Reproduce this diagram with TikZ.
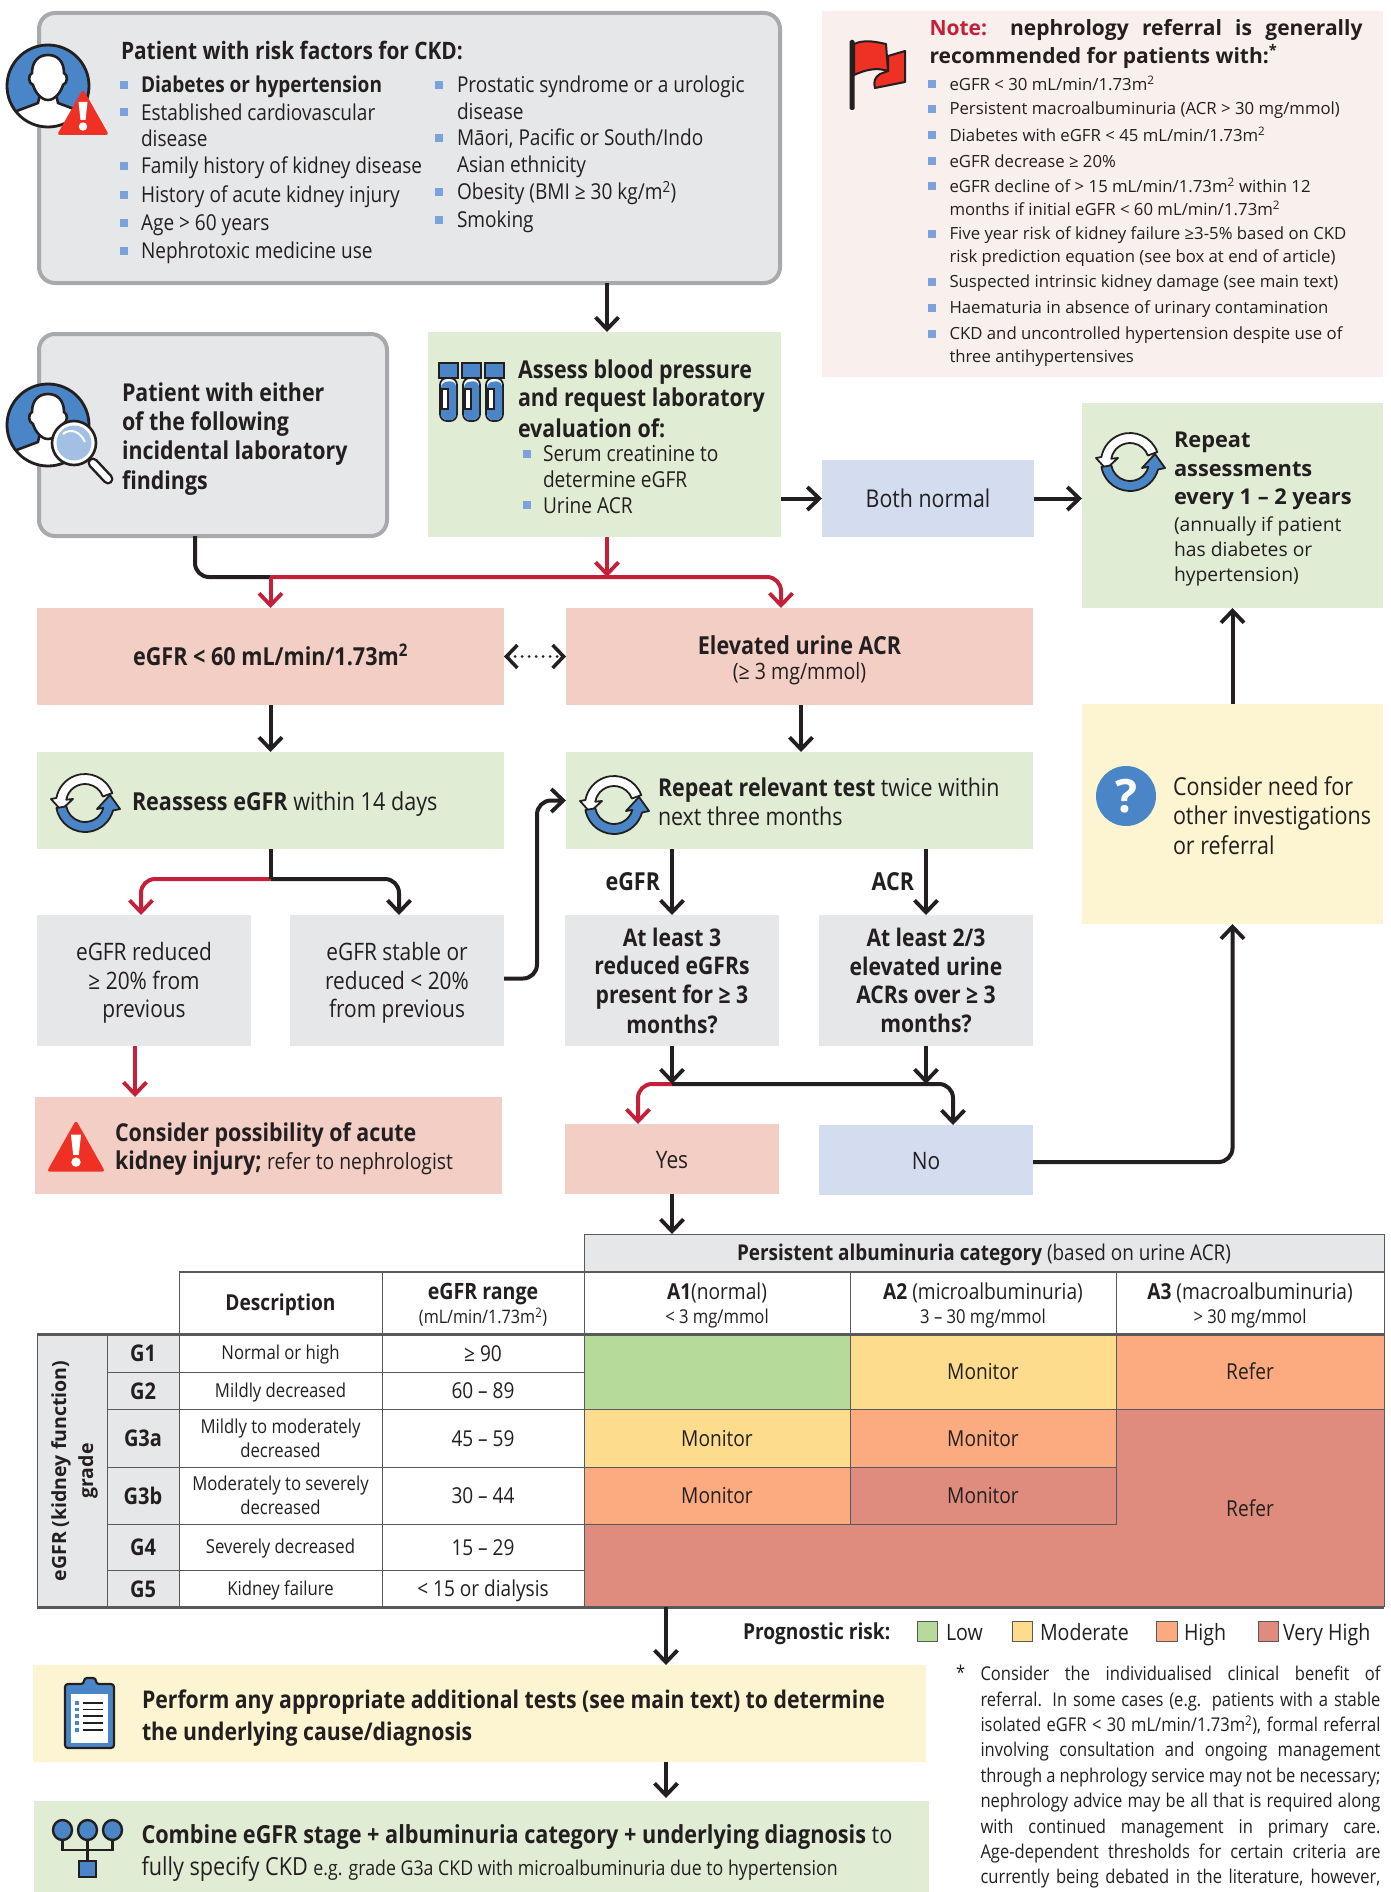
\documentclass[tikz,border=0pt]{standalone}
\usepackage{fontspec}
\usetikzlibrary{arrows.meta}
\setmainfont{Open Sans}[FakeStretch=0.87]
\newfontfamily\nf{Open Sans}
\definecolor{ink}{HTML}{231F20}
\definecolor{gfill}{HTML}{E6E7E8}
\definecolor{gline}{HTML}{A7A9AC}
\definecolor{grn}{HTML}{E1ECD5}
\definecolor{pnk}{HTML}{F2CEC4}
\definecolor{blu}{HTML}{D3DDEF}
\definecolor{yel}{HTML}{FDF5D2}
\definecolor{notebg}{HTML}{F9EFED}
\definecolor{redln}{HTML}{C4203A}
\definecolor{cblue}{HTML}{4A86C7}
\definecolor{bul}{HTML}{7BA3D9}
\definecolor{warnred}{HTML}{EE3124}
\definecolor{hgreen}{HTML}{B6DA9A}
\definecolor{hyel}{HTML}{FEDC8E}
\definecolor{hor}{HTML}{FBAB7F}
\definecolor{hred}{HTML}{DF8C7F}
\definecolor{tline}{HTML}{58595B}
\newcommand\sz[2]{\fontsize{#1}{#2}\selectfont}
\newcommand\lh{\rule[-.2em]{0pt}{1.15em}}
\newcounter{tc}
\newcommand\T[4][]{\stepcounter{tc}\node[txt,#1] (t\arabic{tc}) at (#2,#3) {\lh #4\lh};}
\newcommand\bx[7][]{\node[cell,#1,minimum width={(#5-#3)*1pt},minimum height={(#6-#4)*1pt}] (#2) at ({(#3+#5)/2},{(#4+#6)/2}) {\lh #7\lh};}
\newcommand\B[2]{\fill[bul] (#1-4,#2-4) rectangle (#1+4,#2+4);}
\newcommand\cycleicon[2]{\begin{scope}[shift={(#1,#2)}]
\filldraw[fill=white,draw=ink,line width=1.8pt,line join=round] (-20:29) arc[start angle=-20,end angle=-170,radius=29] -- (-34,-4) -- (-24,7) -- (-12,-4) -- (-170:19) arc[start angle=-170,end angle=-20,radius=19] -- cycle;
\filldraw[fill=cblue,draw=ink,line width=1.8pt,line join=round] (170:29) arc[start angle=170,end angle=15,radius=29] -- (35,6) -- (25,-8) -- (12,6) -- (15:19) arc[start angle=15,end angle=170,radius=19] -- cycle;
\end{scope}}
\newcommand\personicon[2]{\begin{scope}[shift={(#1,#2)}]
\fill[cblue] (0,0) circle[radius=41];
\begin{scope}\clip (0,0) circle[radius=41];
\filldraw[fill=white,draw=ink,line width=2.6pt,line join=round] (-42,29) -- (-10,17) -- (-8,8) -- (8,8) -- (10,17) -- (42,29) -- (42,50) -- (-42,50) -- cycle;
\end{scope}
\filldraw[fill=white,draw=ink,line width=2.6pt] (0,-31) .. controls (-10,-31) and (-16,-24) .. (-16,-13) .. controls (-20,-11) and (-20,-3) .. (-15,-1) .. controls (-13,6) and (-7,14) .. (0,14) .. controls (7,14) and (13,6) .. (15,-1) .. controls (20,-3) and (20,-11) .. (16,-13) .. controls (16,-24) and (10,-31) .. (0,-31) -- cycle;
\draw[ink,line width=2.8pt] (0,0) circle[radius=41];
\end{scope}}
\newcommand\warn[3]{\begin{scope}[shift={(#1,#2)},scale=#3]
\fill[warnred,rounded corners=3pt] (0,-24) -- (26,22) -- (-26,22) -- cycle;
\fill[white] (-4.5,-11) -- (4.5,-11) -- (2.5,7) -- (-2.5,7) -- cycle;
\fill[white] (0,13.5) circle[radius=4.2];
\end{scope}}
\newcommand\tube[1]{\begin{scope}[shift={(#1,363)}]
\filldraw[fill=white,draw=ink,line width=1.8pt,rounded corners=7pt] (1,15) -- (1,58) -- (18,58) -- (18,15) -- cycle;
\fill[cblue,rounded corners=6pt] (2,19) -- (2,57) -- (17,57) -- (17,18) -- cycle;
\fill[white] (3,26) rectangle (9,46);
\draw[ink,line width=1.2pt] (3,26) rectangle (9,46);
\filldraw[fill=cblue,draw=ink,line width=1.8pt] (0,0) rectangle (19,15);
\end{scope}}
\tikzset{
 txt/.style={inner sep=0pt,outer sep=0pt,text=ink,anchor=west,align=left},
 ctr/.style={anchor=center,align=center},
 cell/.style={inner sep=0pt,outer sep=0pt,text=ink,align=center,anchor=center},
 rbox/.style={fill=gfill,draw=gline,line width=4pt,rounded corners=16pt},
 tc/.style={draw=tline,line width=1pt,fill=white},
 gc/.style={draw=tline,line width=1pt,fill=gfill},
 hc/.style={draw=tline,line width=1pt},
 ar/.style={ink,line width=4pt,-{Straight Barb[length=12pt,width=23pt,line width=3.8pt]}},
 rar/.style={redln,line width=4pt,-{Straight Barb[length=12pt,width=23pt,line width=3.8pt]}},
 ln/.style={ink,line width=4pt},
}
\begin{document}
\begin{tikzpicture}[x=1pt,y=-1pt]
\useasboundingbox (0,0) rectangle (1390,1892);
% ---------- boxes
\bx[rbox]{risk}{39}{13}{780}{283}{}
\bx[rbox]{incid}{39}{334}{387}{536}{}
\bx[fill=grn]{assess}{428}{332}{781}{537}{}
\bx[fill=notebg]{note}{822}{11}{1383}{377}{}
\bx[fill=blu,font=\sz{24.5}{28}]{both}{822}{460}{1034}{537}{Both normal}
\bx[fill=grn]{rpt}{1082}{403}{1383}{608}{}
\bx[fill=pnk,font=\sz{24.8}{28}\bfseries]{egfr}{37}{608}{504}{705}{eGFR < 60 mL/min/1.73m\textsuperscript{2}}
\bx[fill=pnk]{elev}{566}{608}{1033}{705}{}
\bx[fill=grn]{reass}{37}{752}{504}{849}{}
\bx[fill=grn]{rep}{566}{752}{1033}{849}{}
\bx[fill=gfill,font=\sz{24}{28.5}]{redu}{37}{915}{251}{1046}{eGFR reduced\\≥ 20\% from\\previous}
\bx[fill=gfill,font=\sz{24}{28.5}]{stable}{290}{915}{504}{1046}{eGFR stable or\\reduced < 20\%\\from previous}
\bx[fill=gfill,font=\sz{24.3}{28.5}\bfseries]{atl3}{565}{915}{779}{1046}{At least 3\\reduced eGFRs\\present for ≥ 3\\months?}
\bx[fill=gfill,font=\sz{24.3}{28.5}\bfseries]{atl2}{819}{915}{1033}{1046}{At least 2/3\\elevated urine\\ACRs over ≥ 3\\months?}
\bx[fill=pnk]{aki}{35}{1097}{502}{1194}{}
\bx[fill=pnk,font=\sz{24}{28}]{yes}{565}{1124}{779}{1194}{Yes}
\bx[fill=blu,font=\sz{24}{28}]{no}{819}{1125}{1033}{1195}{No}
\bx[fill=yel]{cons}{1082}{704}{1383}{924}{}
\bx[fill=yel]{perform}{33}{1665}{926}{1762}{}
\bx[fill=grn]{comb}{34}{1801}{929}{1892}{}
% ---------- table
\bx[gc,font=\sz{21.75}{25}\bfseries]{hdr}{584}{1234}{1384}{1271}{Persistent albuminuria category \mdseries(based on urine ACR)}
\bx[tc,font=\sz{22}{26}\bfseries]{hdesc}{179}{1272}{382}{1334}{Description}
\bx[tc,font=\sz{22.5}{24}\bfseries]{hrange}{382}{1272}{584}{1334}{eGFR range\\\mdseries\sz{18.6}{24}(mL/min/1.73m\textsuperscript{2})}
\bx[tc,font=\sz{22}{24}]{ha1}{584}{1272}{850}{1334}{\textbf{A1}(normal)\\\sz{19.1}{24}< 3 mg/mmol}
\bx[tc,font=\sz{22}{24}]{ha2}{850}{1272}{1116}{1334}{\textbf{A2} (microalbuminuria)\\\sz{19.1}{24}3 – 30 mg/mmol}
\bx[tc,font=\sz{22}{24}]{ha3}{1116}{1272}{1384}{1334}{\textbf{A3} (macroalbuminuria)\\\sz{19.1}{24}> 30 mg/mmol}
\bx[gc]{gradecol}{37}{1334}{107}{1607}{}
\node[inner sep=0pt,text=ink,align=center,rotate=90,font=\nf\sz{19.5}{27}\bfseries] (gradetxt) at (74.5,1471) {eGFR (kidney function)\\grade};
\foreach \nm/\ya/\yb/\lab/\desc/\rng in {g1/1334/1372/G1/Normal or high/≥ 90,g2/1372/1409/G2/Mildly decreased/60 – 89,g3a/1409/1467/G3a/{Mildly to moderately\\decreased}/45 – 59,g3b/1467/1524/G3b/{Moderately to severely\\decreased}/30 – 44,g4/1524/1570/G4/Severely decreased/15 – 29,g5/1570/1607/G5/Kidney failure/< 15 or dialysis}{
 \bx[gc,font=\sz{23}{25}\bfseries]{\nm l}{107}{\ya}{179}{\yb}{\lab}
 \bx[tc,font=\sz{19.2}{21.5}]{\nm d}{179}{\ya}{382}{\yb}{\desc}
 \bx[tc,font=\sz{21.9}{25}]{\nm r}{382}{\ya}{584}{\yb}{\rng}
}
\bx[fill=hred]{redbot}{584}{1524}{1384}{1607}{}
\bx[fill=hred]{redright}{1116}{1409}{1384}{1607}{}
\bx[hc,fill=hgreen]{c11}{584}{1334}{850}{1409}{}
\bx[hc,fill=hyel,font=\sz{22}{25}]{c12}{850}{1334}{1116}{1409}{Monitor}
\bx[hc,fill=hor,font=\sz{22}{25}]{c13}{1116}{1334}{1384}{1409}{Refer}
\bx[hc,fill=hyel,font=\sz{22}{25}]{c21}{584}{1409}{850}{1467}{Monitor}
\bx[hc,fill=hor,font=\sz{22}{25}]{c22}{850}{1409}{1116}{1467}{Monitor}
\bx[hc,fill=hor,font=\sz{22}{25}]{c31}{584}{1467}{850}{1524}{Monitor}
\bx[hc,fill=hred,font=\sz{22}{25}]{c32}{850}{1467}{1116}{1524}{Monitor}
\T[ctr,font=\sz{22}{25}]{1250}{1508}{Refer}
\draw[tline,line width=1pt] (584,1409) -- (584,1607);
\draw[tline,line width=1pt] (1384,1409) -- (1384,1607);
\draw[tline,line width=3pt] (37,1334) -- (1384,1334);
\draw[tline,line width=3pt] (37,1607) -- (1384,1607);
\draw[tline,line width=2.4pt] (179,1272) -- (1384,1272);
% ---------- connectors
\draw[ar] ([xshift=568pt]risk.south west) -- ([xshift=179pt]assess.north west);
\coordinate (j1) at (270.5,577);
\coordinate (j2) at (607,577);
\draw[rar,rounded corners=14pt] (j1) -| ([xshift=215pt]elev.north west);
\draw[ln,rounded corners=14pt] ([xshift=156pt]incid.south west) |- (j1);
\draw[rar] (j1) -- (egfr.north);
\draw[rar] ([xshift=179pt]assess.south west) -- (j2);
\draw[ar] (assess.east |- both.west) -- (both.west);
\draw[ar] (both.east) -- (both.east -| rpt.west);
\draw[ink,line width=3pt,dash pattern=on 0pt off 7pt,line cap=round,{Straight Barb[length=11pt,width=23pt,line width=3.5pt]}-{Straight Barb[length=11pt,width=23pt,line width=3.5pt]}] (egfr.east) -- (elev.west);
\draw[ar] (egfr.south) -- (reass.north);
\draw[ar] ([xshift=235pt]elev.south west) -- ([xshift=235pt]rep.north west);
\coordinate (j3) at (270.5,879);
\draw[rar,rounded corners=14pt] (j3) -| ([xshift=104pt]redu.north west);
\draw[ar,rounded corners=14pt] (j3) -| ([xshift=109pt]stable.north west);
\draw[ln] (reass.south) -- (j3);
\draw[rar] ([xshift=98pt]redu.south west) -- ([xshift=100pt,yshift=0pt]aki.north west);
\draw[ar,rounded corners=14pt] ([yshift=2pt]stable.east) -- ++(33,0) |- (rep.west);
\draw[ar] (atl3.north |- rep.south) -- (atl3.north);
\draw[ar] (atl2.north |- rep.south) -- (atl2.north);
\coordinate (j4) at (672,1084);
\coordinate (j5) at (926,1084);
\draw[rar,rounded corners=14pt] (j4) -| ([xshift=73pt]yes.north west);
\draw[ar,rounded corners=14pt] (j4) -| ([xshift=134pt]no.north west);
\draw[ar] (atl3.south) -- (j4);
\draw[ar] (atl2.south) -- (j5);
\draw[ar,rounded corners=14pt] ([yshift=-2pt]no.east) -| (cons.south);
\draw[ar] (cons.north) -- (cons.north |- rpt.south);
\draw[ar] (yes.south) -- ([xshift=88pt]hdr.north west);
\draw[ar] ([xshift=82pt]redbot.south west) -- ([xshift=633pt]perform.north west);
\draw[ar] ([xshift=633pt]perform.south west) -- ([xshift=632pt,yshift=3pt]comb.north west);
% ---------- risk text
\T[font=\sz{24}{28}\bfseries]{121}{51}{Patient with risk factors for CKD:}
\begin{scope}[nodes={font=\sz{21.9}{26.5}}]
\B{124}{85}\T{141}{85}{\textbf{Diabetes or hypertension}}
\B{124}{112}\T{141}{125.5}{Established cardiovascular\\disease}
\B{124}{166}\T{141}{166}{Family history of kidney disease}
\B{124}{195}\T{141}{195}{History of acute kidney injury}
\B{124}{223}\T{141}{223}{Age > 60 years}
\B{124}{251}\T{141}{251}{Nephrotoxic medicine use}
\B{439}{85}\T{457}{98}{Prostatic syndrome or a urologic\\disease}
\B{439}{138}\T{457}{151}{Māori, Pacific or South/Indo\\Asian ethnicity}
\B{439}{192}\T{457}{192}{Obesity (BMI ≥ 30 kg/m\textsuperscript{2})}
\B{439}{220}\T{457}{220}{Smoking}
\end{scope}
\T[font=\sz{24.6}{28.8}\bfseries]{122}{437}{Patient with either\\of the following\\incidental laboratory\\findings}
\T[font=\sz{24.6}{28.5}\bfseries]{518}{398.5}{Assess blood pressure\\and request laboratory\\evaluation of:}
\begin{scope}[nodes={font=\sz{22}{25.5}}]
\B{526.5}{453.5}\T{543}{466}{Serum creatinine to\\determine eGFR}
\B{526.5}{505}\T{543}{505}{Urine ACR}
\end{scope}
% ---------- note
\T[font=\nf\sz{21}{28}\bfseries]{929.5}{42}{\makebox[433pt][s]{\textcolor{redln}{Note:} nephrology referral is generally}\\recommended for patients with:\textsuperscript{*}}
\begin{scope}[nodes={font=\nf\sz{16.75}{23}}]
\B{932}{84}\T{949.5}{84}{eGFR < 30 mL/min/1.73m\textsuperscript{2}}
\B{932}{109}\T{949.5}{109}{Persistent macroalbuminuria (ACR > 30 mg/mmol)}
\B{932}{135}\T{949.5}{135}{Diabetes with eGFR < 45 mL/min/1.73m\textsuperscript{2}}
\B{932}{161}\T{949.5}{161}{eGFR decrease ≥ 20\%}
\B{932}{186}\T{949.5}{197.5}{eGFR decline of > 15 mL/min/1.73m\textsuperscript{2} within 12\\months if initial eGFR < 60 mL/min/1.73m\textsuperscript{2}}
\B{932}{234}\T{949.5}{245.5}{Five year risk of kidney failure ≥3-5\% based on CKD\\risk prediction equation (see box at end of article)}
\B{932}{282}\T{949.5}{282}{Suspected intrinsic kidney damage (see main text)}
\B{932}{308}\T{949.5}{308}{Haematuria in absence of urinary contamination}
\B{932}{334}\T{949.5}{345}{CKD and uncontrolled hypertension despite use of\\three antihypertensives}
\end{scope}
% ---------- other texts
\T[font=\nf\sz{21.8}{28.5}\bfseries]{1174}{468.5}{Repeat\\assessments\\every 1 – 2 years}
\T[font=\nf\sz{19.3}{25}]{1174}{550}{(annually if patient\\has diabetes or\\hypertension)}
\T[ctr,font=\sz{24.8}{28}\bfseries]{799.5}{645}{Elevated urine ACR}
\T[ctr,font=\sz{22.5}{24}]{799.5}{672}{(≥ 3 mg/mmol)}
\T[font=\sz{24.8}{28}]{132}{801.5}{\textbf{Reassess eGFR} within 14 days}
\T[font=\sz{24.6}{29.5}]{658}{802}{\textbf{Repeat relevant test} twice within\\next three months}
\T[anchor=east,font=\sz{24.8}{28}\bfseries]{660}{881}{eGFR}
\T[anchor=east,font=\sz{24.8}{28}\bfseries]{914}{881}{ACR}
\T[font=\sz{24.6}{28}]{115}{1147}{\textbf{Consider possibility of acute}\\\textbf{kidney injury;} \sz{22.2}{28}refer to nephrologist}
\T[font=\sz{24.7}{29}]{1173}{816}{Consider need for\\other investigations\\or referral}
\T[font=\sz{24.4}{32}\bfseries]{142}{1716}{Perform any appropriate additional tests (see main text) to determine\\the underlying cause/diagnosis}
\T[font=\sz{24.9}{32}]{141.5}{1851}{\textbf{Combine eGFR stage + albuminuria category + underlying diagnosis} to\\fully specify CKD \sz{20.4}{32}e.g. grade G3a CKD with microalbuminuria due to hypertension}
% ---------- legend
\T[font=\sz{22}{25}\bfseries]{743}{1632}{Prognostic risk:}
\bx[hc,fill=hgreen]{l1}{917}{1621}{937}{1641}{}
\T[font=\sz{22.5}{25}]{946}{1632}{Low}
\bx[hc,fill=hyel]{l2}{1012}{1621}{1032}{1641}{}
\T[font=\sz{22.5}{25}]{1040}{1632}{Moderate}
\bx[hc,fill=hor]{l3}{1156}{1621}{1177}{1641}{}
\T[font=\sz{22.5}{25}]{1184}{1632}{High}
\bx[hc,fill=hred]{l4}{1258}{1621}{1278}{1641}{}
\T[font=\sz{22.5}{25}]{1283}{1632}{Very High}
% ---------- footnote
\T[font=\sz{19}{24}]{956}{1672}{*}
\newcommand\jl[1]{\makebox[400pt][s]{#1}}
\T[font=\sz{19}{25.38}]{980.5}{1775.5}{\jl{Consider the individualised clinical benefit of}\\\jl{referral. In some cases (e.g. patients with a stable}\\\jl{isolated eGFR < 30 mL/min/1.73m\textsuperscript{2}), formal referral}\\\jl{involving consultation and ongoing management}\\\jl{through a nephrology service may not be necessary;}\\\jl{nephrology advice may be all that is required along}\\\jl{with continued management in primary care.}\\\jl{Age-dependent thresholds for certain criteria are}\\\jl{currently being debated in the literature, however,}}
% ---------- icons
\personicon{48}{86}
\warn{83}{113}{1}
\personicon{48}{425}
\begin{scope}
\draw[ink,line width=11pt,line cap=round] (93,463) -- (108,479);
\draw[white,line width=6pt,line cap=round] (93,463) -- (108,479);
\filldraw[fill=white,draw=ink,line width=2.6pt] (74,443) circle[radius=22];
\fill[fill=bul!70!white] (74,443) circle[radius=17.5];
\draw[white,line width=2pt] (63,434) .. controls (70,428) and (80,431) .. (85,442);
\end{scope}
\tube{439}\tube{462}\tube{485}
\cycleicon{1130}{462}
\cycleicon{85}{803}
\cycleicon{614}{805}
\warn{76}{1147}{1.12}
% flag
\fill[ink,rounded corners=1.5pt] (849.5,40) rectangle (854.5,110);
\filldraw[fill=warnred,draw=ink,line width=2pt,line join=round] (888,56) -- (905,51) -- (905,82) -- (875,88) .. controls (873,82) and (875,77) .. (880,74) -- (888,71) -- cycle;
\filldraw[fill=warnred,draw=ink,line width=2pt,line join=round] (854,44) .. controls (865,39) and (876,42) .. (886,44) -- (888,71) .. controls (876,67) and (865,70) .. (854,75) -- cycle;
% question
\fill[cblue] (1126,796) circle[radius=30];
\node[inner sep=0pt,text=white,font=\nf\sz{46}{46}\bfseries] (qmark) at (1126,796) {?};
% clipboard
\filldraw[fill=cblue,draw=ink,line width=2.2pt,rounded corners=3pt] (65,1684) -- (65,1748) -- (114,1748) -- (114,1684) -- (96,1684) -- (96,1678) -- (84,1678) -- (84,1684) -- cycle;
\fill[white] (71,1694) rectangle (108,1743);
\foreach \yy in {1703,1709.5,1716,1723,1730}{
 \fill[cblue] (75,\yy-1.7) rectangle (79,\yy+1.7);
 \draw[ink,line width=1.8pt] (83,\yy) -- (103,\yy);
}
% tree
\draw[ink,line width=2.4pt] (62.5,1840) -- (62.5,1850) -- (112.5,1850) -- (112.5,1840);
\draw[ink,line width=2.4pt] (87.5,1840) -- (87.5,1860);
\foreach \xx in {62.5,87.5,112.5}{
 \filldraw[fill=cblue,draw=ink,line width=2.4pt] (\xx,1830) ellipse[x radius=9.5,y radius=10];
}
\filldraw[fill=cblue,draw=ink,line width=2.4pt] (79,1861) rectangle (96,1877);
\end{tikzpicture}
\end{document}
